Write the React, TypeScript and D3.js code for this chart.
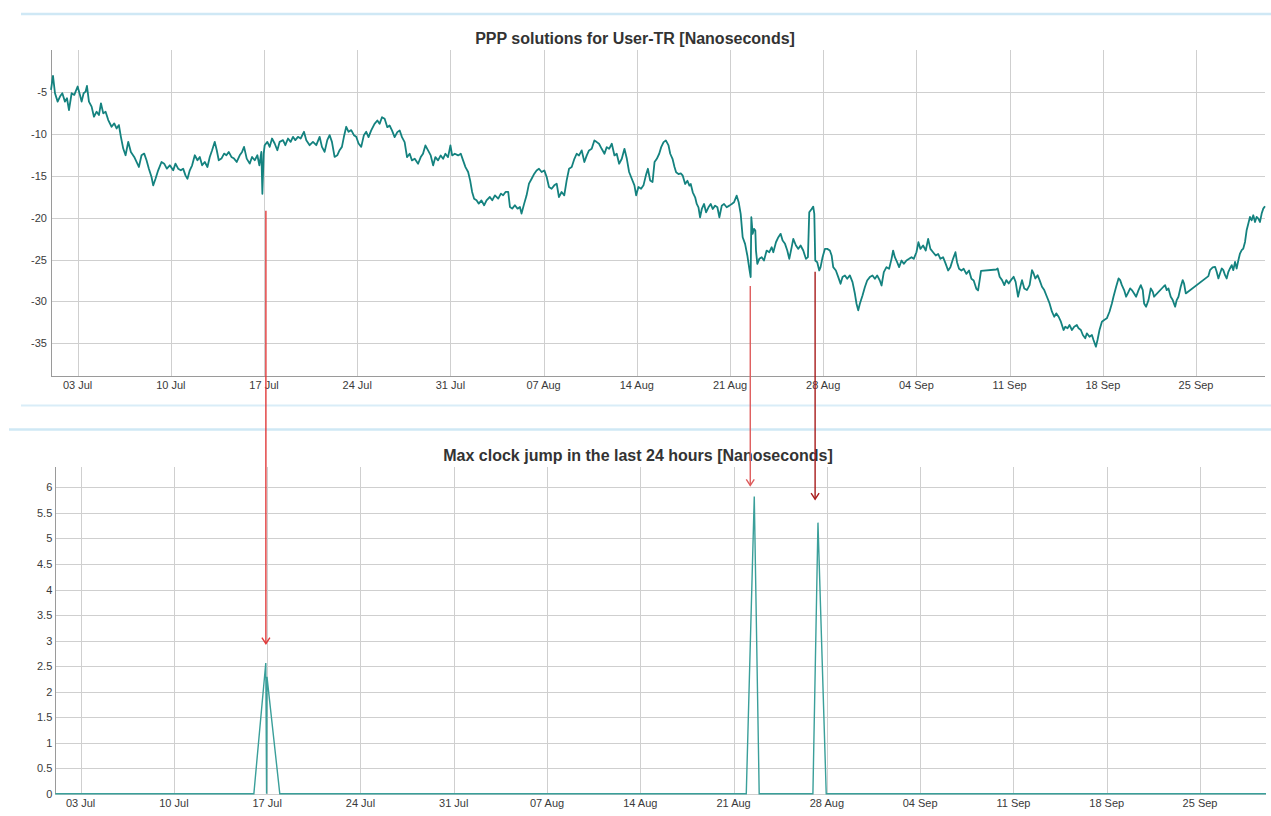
import React from "react";
import * as d3 from "d3";

const START = "2023-07-01T00:00:00Z";

// PPP solution (ns) — day offset from START, value
const pppDay = [
  0.0, 0.15, 0.3, 0.5, 0.675, 0.85, 1.05, 1.2, 1.35, 1.55, 1.75, 2.0, 2.175, 2.3, 2.45, 2.6, 2.7, 2.85, 3.05, 3.225,
  3.425, 3.6, 3.75, 3.925, 4.1, 4.3, 4.55, 4.75, 4.925, 5.1, 5.25, 5.425, 5.6, 5.8, 6.0, 6.25, 6.425, 6.6, 6.8, 7.0,
  7.175, 7.35, 7.55, 7.675, 7.85, 8.05, 8.3, 8.5, 8.7, 8.925, 9.175, 9.35, 9.55, 9.75, 9.925, 10.1, 10.25, 10.425, 10.6, 10.8,
  11.0, 11.175, 11.35, 11.55, 11.75, 11.925, 12.1, 12.3, 12.45, 12.6, 12.8, 13.0, 13.175, 13.35, 13.55, 13.75, 13.95, 14.175, 14.35, 14.5,
  14.7, 14.925, 15.1, 15.3, 15.5, 15.65, 15.8, 15.875, 15.975, 16.05, 16.25, 16.425, 16.6, 16.8, 17.0, 17.175, 17.425, 17.6, 17.8, 18.0,
  18.175, 18.35, 18.55, 18.75, 19.0, 19.175, 19.425, 19.675, 19.925, 20.175, 20.35, 20.55, 20.75, 20.925, 21.1, 21.3, 21.5, 21.675, 21.85, 22.0,
  22.175, 22.35, 22.55, 22.75, 22.925, 23.1, 23.3, 23.5, 23.675,
  23.85, 24.05, 24.3, 24.51, 24.68, 24.86, 25.06, 25.26, 25.43, 25.61, 25.81, 26.01, 26.19, 26.36, 26.56, 26.74, 26.94, 27.11, 27.32, 27.57,
  27.77, 27.94, 28.12, 28.32, 28.52, 28.7, 28.87, 29.07, 29.27, 29.45, 29.62, 29.82, 30.0, 30.13, 30.33, 30.58, 30.78, 30.95, 31.13, 31.33,
  31.48, 31.63, 31.78, 31.96, 32.13, 32.33, 32.53, 32.71, 32.96, 33.14, 33.34, 33.59, 33.79, 33.96, 34.14, 34.34, 34.47, 34.64, 34.84, 35.04,
  35.22, 35.34, 35.54, 35.72, 35.9, 36.1, 36.3, 36.47, 36.65, 36.85, 37.05, 37.23, 37.4, 37.6, 37.8, 37.98, 38.15, 38.35, 38.55, 38.73,
  38.91, 39.11, 39.31, 39.48, 39.66, 39.86, 40.06, 40.24, 40.41, 40.61, 40.81, 40.99, 41.16, 41.36, 41.57, 41.74, 41.92, 42.12, 42.32, 42.49,
  42.67, 42.87, 43.07, 43.25, 43.42, 43.62, 43.82, 43.95, 44.12, 44.32, 44.5, 44.68, 44.83, 45.0, 45.18, 45.33, 45.5, 45.68, 45.83, 46.01,
  46.18, 46.38, 46.51, 46.68, 46.83,
  46.95, 47.13, 47.3, 47.45, 47.63, 47.8, 47.95, 48.05, 48.2, 48.38, 48.5, 48.63, 48.75, 48.88, 49.05, 49.2, 49.38, 49.55, 49.7, 49.88,
  50.05, 50.2, 50.38, 50.55, 50.75, 50.95, 51.13, 51.3, 51.5, 51.65, 51.8, 51.95, 52.13, 52.3, 52.45, 52.55, 52.6, 52.7, 52.8, 52.9,
  52.95, 53.05, 53.2, 53.38, 53.55, 53.75, 53.95, 54.13, 54.25, 54.45, 54.63, 54.8, 54.95, 55.13, 55.3, 55.45, 55.63, 55.75, 55.95, 56.13,
  56.3, 56.5, 56.7, 56.85, 56.95, 57.13, 57.25, 57.33, 57.4, 57.55, 57.7, 57.8, 57.95, 58.13, 58.3, 58.5, 58.63, 58.75, 58.95, 59.13,
  59.3, 59.45, 59.63, 59.8, 60.0, 60.2, 60.38, 60.5, 60.63, 60.75, 60.95, 61.13, 61.3, 61.5, 61.7, 61.88, 62.05, 62.25, 62.38, 62.55,
  62.75, 62.95, 63.13, 63.25, 63.38, 63.55, 63.7, 63.88, 64.05, 64.25, 64.45, 64.63, 64.8, 65.0, 65.15, 65.3, 65.5, 65.7, 65.88, 66.05,
  66.25, 66.45, 66.63, 66.8, 67.0, 67.2, 67.38, 67.55, 67.75, 67.93, 68.05, 68.2, 68.38, 68.55, 68.75, 68.95, 69.13, 69.3, 69.5, 69.63,
  69.75, 69.85, 71.0, 71.1, 71.25, 71.43, 71.6, 71.75, 71.93, 72.1, 72.3, 72.45, 72.63, 72.8, 72.93, 73.1, 73.3, 73.5, 73.68, 73.8,
  73.93, 74.1, 74.25, 74.43, 74.6, 74.8, 75.0, 75.18, 75.35, 75.5, 75.68, 75.85, 76.05, 76.18, 76.35, 76.5, 76.68, 76.85, 77.05, 77.18,
  77.35, 77.5, 77.68, 77.8, 78.0, 78.18, 78.3, 78.48, 78.6, 78.75, 78.93, 79.1, 79.3, 79.5, 79.68, 79.8, 80.0, 80.18, 80.3, 80.43,
  80.6, 80.75, 80.93, 81.05, 81.18, 81.35, 81.5, 81.68, 81.85, 82.0, 82.1, 82.25, 82.43, 82.6, 82.75, 82.85, 83.55, 83.68, 83.8, 83.93,
  84.1, 84.25, 84.43, 84.55, 84.68, 84.85, 85.0, 85.1, 85.23, 86.93, 87.05, 87.25, 87.43, 87.55, 87.68, 87.8, 87.93, 88.05, 88.18, 88.3,
  88.43, 88.55, 88.68, 88.8, 88.93, 89.05, 89.18, 89.3, 89.43, 89.55, 89.68, 89.8, 89.93, 90.05, 90.18, 90.3, 90.43, 90.55, 90.68, 90.8,
  90.93, 91.05, 91.18,
];
const pppNs = [
  -4.76, -3.08, -5.16, -6.16, -5.56, -5.16, -6.16, -5.76, -7.16, -5.16, -5.36, -4.36, -5.36, -6.16, -5.16, -4.96, -4.28, -6.16, -6.76, -7.96,
  -7.36, -7.76, -6.36, -7.56, -7.36, -8.36, -9.16, -8.76, -9.36, -8.96, -10.36, -11.76, -12.56, -10.96, -12.16, -12.76, -13.36, -13.96, -12.56, -12.36,
  -13.16, -14.16, -15.16, -16.16, -15.36, -14.36, -13.36, -13.56, -14.16, -13.76, -14.36, -13.56, -14.16, -14.36, -14.16, -14.96, -15.36, -14.36, -13.76, -12.56,
  -13.16, -12.76, -13.76, -13.36, -13.96, -12.76, -11.96, -10.96, -11.96, -13.16, -12.96, -12.36, -12.56, -12.16, -12.76, -12.96, -13.36, -12.56, -12.16, -11.56,
  -12.96, -13.56, -12.76, -13.16, -12.56, -13.76, -12.16, -17.16, -12.36, -11.36, -10.96, -11.56, -10.56, -11.16, -11.96, -10.96, -10.76, -11.36, -10.56, -10.96,
  -10.36, -10.76, -10.36, -10.56, -9.76, -10.76, -11.36, -10.96, -11.36, -10.36, -11.56, -12.16, -10.76, -10.16, -10.96, -12.76, -12.56, -11.96, -11.56, -10.36,
  -9.16, -9.76, -9.56, -10.16, -10.36, -11.16, -11.56, -10.16, -9.76,
  -10.4, -9.6, -8.81, -8.41, -8.81, -8.02, -8.21, -9.21, -9.01, -9.6, -10.4, -9.8, -9.6, -10.4, -10.99, -12.78, -12.38, -13.17, -12.98, -13.57,
  -12.78, -12.38, -11.39, -11.98, -12.58, -13.77, -12.78, -13.17, -12.58, -12.98, -12.38, -12.78, -11.39, -12.58, -12.38, -12.58, -12.38, -13.17, -13.97, -14.56,
  -15.56, -16.94, -17.74, -17.94, -18.33, -17.94, -18.53, -17.94, -17.54, -17.94, -17.34, -17.74, -17.14, -17.34, -16.94, -16.94, -18.73, -18.93, -18.53, -18.93,
  -18.73, -19.52, -18.33, -17.34, -15.95, -15.36, -14.76, -14.37, -14.17, -14.56, -14.37, -15.16, -16.35, -16.55, -16.15, -15.95, -17.54, -16.94, -17.34, -15.56,
  -14.17, -13.97, -12.98, -12.38, -12.58, -11.98, -13.37, -12.58, -11.98, -11.79, -10.79, -10.99, -11.19, -11.79, -12.38, -11.59, -11.79, -11.19, -12.58, -12.38,
  -13.57, -12.98, -11.79, -12.98, -14.56, -15.36, -16.15, -17.34, -16.35, -16.55, -16.15, -14.96, -14.17, -15.56, -15.75, -13.37, -12.98, -12.38, -11.59, -10.99,
  -10.79, -11.39, -12.38, -12.98, -13.97,
  -14.6, -14.8, -14.72, -15.0, -15.99, -15.6, -16.19, -15.99, -16.98, -17.58, -18.37, -18.77, -19.96, -18.97, -18.37, -19.37, -18.77, -18.37, -18.97, -18.57,
  -18.77, -19.96, -18.57, -18.37, -18.77, -18.57, -18.37, -18.17, -17.38, -18.17, -19.56, -22.34, -23.13, -24.52, -26.11, -27.1, -19.96, -21.94, -21.35, -21.55,
  -23.93, -25.52, -24.92, -24.72, -25.12, -23.93, -24.13, -23.53, -24.13, -22.94, -22.34, -21.94, -22.74, -23.13, -23.93, -24.92, -23.53, -22.54, -23.33, -23.73,
  -23.33, -23.93, -24.92, -24.72, -19.37, -18.97, -18.69, -19.56, -25.12, -25.32, -26.31, -25.91, -24.72, -23.73, -23.73, -23.93, -24.52, -25.91, -26.31, -27.1,
  -27.9, -27.1, -26.9, -27.3, -26.9, -27.7, -29.09, -30.28, -31.07, -30.28, -29.29, -28.29, -27.5, -27.1, -26.9, -27.3, -26.9, -27.5, -28.1, -26.51,
  -25.91, -26.11, -24.92, -23.93, -24.72, -25.32, -25.91, -25.12, -25.52, -25.12, -24.92, -24.72, -24.92, -24.13, -22.94, -23.73, -23.33, -23.93, -22.54, -23.73,
  -24.13, -24.52, -24.33, -24.92, -24.72, -25.52, -26.31, -25.91, -24.92, -24.13, -25.32, -26.11, -26.31, -26.11, -26.71, -26.31, -27.3, -27.5, -28.49, -28.69,
  -27.46, -26.35, -26.19, -26.07, -27.06, -27.46, -28.06, -27.46, -27.86, -27.46, -27.06, -27.66, -29.44, -28.25, -27.46, -28.45, -28.65, -28.06, -26.27, -26.67,
  -27.26, -26.87, -27.46, -28.25, -28.65, -29.44, -30.24, -31.23, -31.83, -31.43, -31.83, -32.42, -33.41, -33.02, -33.21, -32.82, -33.41, -33.02, -32.82, -33.21,
  -33.41, -34.01, -34.4, -33.81, -34.21, -34.01, -34.6, -35.4, -34.6, -33.41, -32.42, -32.22, -32.02, -31.23, -30.24, -29.44, -28.25, -27.26, -27.46, -28.06,
  -28.65, -29.44, -28.85, -28.45, -28.65, -29.05, -29.44, -28.65, -28.06, -28.65, -30.24, -30.63, -29.84, -28.45, -28.85, -29.44, -28.25, -28.06, -28.65, -28.45,
  -29.44, -29.84, -30.63, -29.84, -29.44, -28.25, -27.46, -27.86, -29.05, -26.98, -26.27, -25.95, -25.87, -26.47, -27.26, -26.67, -26.07, -26.27, -26.87, -27.26,
  -26.47, -26.07, -25.67, -26.27, -25.28, -26.07, -25.08, -24.29, -23.89, -23.69, -22.9, -21.51, -20.71, -19.92, -20.32, -19.72, -20.52, -19.92, -20.12, -20.52,
  -19.52, -18.93, -18.65,
];

// Max clock jump in the last 24 hours (ns)
const jumpDay = [0.1, 15.0, 15.895, 15.955, 15.985, 16.945, 51.95, 52.55, 52.92, 56.95, 57.33, 57.95, 90.95];
const jumpNs = [0, 0, 2.56, 0, 2.29, 0, 0, 5.82, 0, 0, 5.31, 0, 0];

const tickDates = [
  "2023-07-03", "2023-07-10", "2023-07-17", "2023-07-24", "2023-07-31", "2023-08-07", "2023-08-14",
  "2023-08-21", "2023-08-28", "2023-09-04", "2023-09-11", "2023-09-18", "2023-09-25",
];
const topYTicks = [-5, -10, -15, -20, -25, -30, -35];
const bottomYTicks = [0, 0.5, 1, 1.5, 2, 2.5, 3, 3.5, 4, 4.5, 5, 5.5, 6];
const topTitle = "PPP solutions for User-TR [Nanoseconds]";
const bottomTitle = "Max clock jump in the last 24 hours [Nanoseconds]";

// annotation arrows: day, start value (top panel), end value (bottom panel)
const arrowDay = [16.14, 52.52, 57.39];
const arrowFromNs = [-19.17, -28.16, -26.45];
const arrowToNs = [2.94, 6.04, 5.77];
const arrowColors = ["#e03a3a", "#de5c5c", "#a81c1c"];

const t0 = Date.parse(START);
const toDate = (d: number) => new Date(t0 + d * 864e5);

const FONT = "'Liberation Sans', Arial, Helvetica, sans-serif";
const GRID = "#cfcfcf";
const AXIS = "#9a9a9a";
const TEXT = "#3a3a3a";

export default function App() {
  const W = 1271, H = 816;
  const top = { l: 51, r: 1265, t: 50, b: 376 };
  const bot = { l: 55.3, r: 1266, t: 467, b: 793.7 };

  const xTop = d3.scaleUtc().domain([toDate(0), toDate(91.18)]).range([top.l, top.r]);
  const yTop = d3.scaleLinear().domain([-38.9, 0]).range([top.b, top.t]);
  const xBot = d3.scaleUtc().domain([toDate(0.1), toDate(90.95)]).range([bot.l, bot.r]);
  const yBot = d3.scaleLinear().domain([0, 6.4]).range([bot.b, bot.t]);

  const fmt = d3.utcFormat("%d %b");
  const ticks = tickDates.map((s) => new Date(s + "T00:00:00Z"));
  const snap = (v: number) => Math.round(v) + 0.5;

  const topIdx = d3.range(pppDay.length);
  const botIdx = d3.range(jumpDay.length);
  const topPath = d3
    .line<number>()
    .x((i) => xTop(toDate(pppDay[i])))
    .y((i) => yTop(pppNs[i]))(topIdx) as string;
  const botPath = d3
    .line<number>()
    .x((i) => xBot(toDate(jumpDay[i])))
    .y((i) => yBot(jumpNs[i]))(botIdx) as string;

  return (
    <svg
      width={W}
      height={H}
      style={{ position: "absolute", left: 0, top: 0, background: "#fff" }}
      fontFamily={FONT}
    >
      <rect x={0} y={0} width={W} height={H} fill="#fff" />
      {/* panel separators */}
      <line x1={21} x2={W} y1={14} y2={14} stroke="#cfe8f5" strokeWidth={2.6} />
      <line x1={21} x2={W} y1={405.5} y2={405.5} stroke="#d9edf8" strokeWidth={1.8} />
      <line x1={9} x2={W} y1={429.5} y2={429.5} stroke="#cfe8f5" strokeWidth={2.6} />

      {/* ===== Top panel ===== */}
      <g shapeRendering="crispEdges">
        {topYTicks.map((v) => (
          <line key={"tg" + v} x1={top.l} x2={top.r} y1={snap(yTop(v))} y2={snap(yTop(v))} stroke={GRID} />
        ))}
        {ticks.map((d, i) => (
          <line key={"tv" + i} x1={snap(xTop(d))} x2={snap(xTop(d))} y1={top.t} y2={top.b} stroke={GRID} />
        ))}
        <line x1={snap(top.l)} x2={snap(top.l)} y1={top.t} y2={top.b} stroke={AXIS} />
        <line x1={top.l} x2={top.r} y1={snap(top.b)} y2={snap(top.b)} stroke={AXIS} />
      </g>
      {topYTicks.map((v) => (
        <text key={"tyl" + v} x={top.l - 4} y={yTop(v) + 4} textAnchor="end" fontSize={11} fill={TEXT}>
          {v}
        </text>
      ))}
      {ticks.map((d, i) => (
        <text key={"txl" + i} x={xTop(d)} y={389} textAnchor="middle" fontSize={11} fill={TEXT}>
          {fmt(d)}
        </text>
      ))}
      <text x={635} y={44} textAnchor="middle" fontSize={16} fontWeight="bold" fill="#333">
        {topTitle}
      </text>
      <path d={topPath} fill="none" stroke="#14827f" strokeWidth={1.8} strokeLinejoin="round" />

      {/* ===== Bottom panel ===== */}
      <g shapeRendering="crispEdges">
        {bottomYTicks.map((v) => (
          <line key={"bg" + v} x1={bot.l} x2={bot.r} y1={snap(yBot(v))} y2={snap(yBot(v))} stroke={GRID} />
        ))}
        {ticks.map((d, i) => (
          <line key={"bv" + i} x1={snap(xBot(d))} x2={snap(xBot(d))} y1={bot.t} y2={bot.b} stroke={GRID} />
        ))}
        <line x1={snap(bot.l)} x2={snap(bot.l)} y1={bot.t} y2={bot.b} stroke={AXIS} />
      </g>
      {bottomYTicks.map((v) => (
        <text key={"byl" + v} x={bot.l - 3} y={yBot(v) + 4} textAnchor="end" fontSize={11} fill={TEXT}>
          {String(v)}
        </text>
      ))}
      {ticks.map((d, i) => (
        <text key={"bxl" + i} x={xBot(d)} y={807} textAnchor="middle" fontSize={11} fill={TEXT}>
          {fmt(d)}
        </text>
      ))}
      <text x={638} y={460.5} textAnchor="middle" fontSize={16} fontWeight="bold" fill="#333">
        {bottomTitle}
      </text>
      <path d={botPath} fill="none" stroke="#3a9f9a" strokeWidth={1.4} strokeLinejoin="miter" />

      {/* ===== annotation arrows ===== */}
      {arrowDay.map((d, i) => {
        const x = xTop(toDate(d));
        const y1 = yTop(arrowFromNs[i]);
        const y2 = yBot(arrowToNs[i]);
        return (
          <g key={"arr" + i} stroke={arrowColors[i]} fill="none" strokeWidth={1.4}>
            <line x1={x} x2={x} y1={y1} y2={y2} />
            <path d={`M${x - 4},${y2 - 6} L${x},${y2} L${x + 4},${y2 - 6}`} />
          </g>
        );
      })}
    </svg>
  );
}
